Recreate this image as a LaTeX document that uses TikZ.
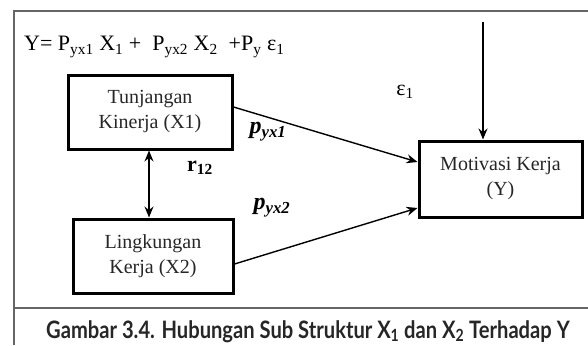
\documentclass[tikz,border=0pt]{standalone}
\usepackage{fontspec}
\setmainfont{Liberation Serif}
\newfontfamily\capfont{Lato}
\usetikzlibrary{arrows.meta}
\begin{document}
\begin{tikzpicture}[x=1pt,y=-1pt,
  varbox/.style={draw=black,line width=3pt,align=center,font=\fontsize{20}{25}\selectfont,text=black!85,inner sep=0pt},
  conn/.style={line width=1.4pt,-{Stealth[length=11pt,width=9pt]}},
  frame/.style={draw=black!60,line width=1.2pt},
  lbl/.style={inner sep=0pt}]
\useasboundingbox (0,0) rectangle (588,345);
% frame
\coordinate (f1) at (14,345);
\coordinate (f2) at (14,11);
\coordinate (f3) at (588,11);
\coordinate (f4) at (14,308);
\coordinate (f5) at (588,308);
\draw[frame] (f1) -- (f2) -- (f3);
\draw[frame] (f4) -- (f5);
% boxes
\node[varbox,minimum width=164pt,minimum height=74pt] (x1) at (150,112) {Tunjangan\\Kinerja (X1)};
\node[varbox,minimum width=160pt,minimum height=74pt] (x2) at (153,256) {Lingkungan\\Kerja (X2)};
\node[varbox,minimum width=163pt,minimum height=76pt] (y) at (500.5,179) {Motivasi Kerja\\(Y)};
% arrows
\coordinate (top) at (483,22);
\draw[conn] ([yshift=5pt]x1.east) -- ([yshift=17pt]y.west);
\draw[conn] ([yshift=-8pt]x2.east) -- ([yshift=-29pt]y.west);
\draw[conn] (top) -- ([xshift=-17.5pt]y.north);
\draw[line width=1.4pt,{Stealth[length=11pt,width=9pt]}-{Stealth[length=11pt,width=9pt]}] ([xshift=-1pt]x1.south) -- ([xshift=-4pt]x2.north);
% labels
\node[lbl,anchor=base west,font=\fontsize{22}{26}\selectfont] (eq) at (24,51) {Y= P\textsubscript{yx1} X\textsubscript{1} +~ P\textsubscript{yx2} X\textsubscript{2} ~+P\textsubscript{y} ε\textsubscript{1}};
\node[lbl,font=\fontsize{22}{26}\selectfont] (eps) at (405,92) {ε\textsubscript{1}};
\node[lbl,font=\fontsize{24}{28}\selectfont\bfseries\itshape] (p1) at (268,132) {p\textsubscript{yx1}};
\node[lbl,font=\fontsize{24}{28}\selectfont\bfseries\itshape] (p2) at (272,208) {p\textsubscript{yx2}};
\node[lbl,font=\fontsize{22}{26}\selectfont\bfseries] (r) at (200,168) {r\textsubscript{12}};
\node[lbl,anchor=base,font=\capfont\fontsize{24}{28}\selectfont\bfseries,text=black!85] (cap) at (308,338) {\scalebox{0.84}[1]{Gambar 3.4. Hubungan Sub Struktur X\textsubscript{1} dan X\textsubscript{2} Terhadap Y}};
\end{tikzpicture}
\end{document}
